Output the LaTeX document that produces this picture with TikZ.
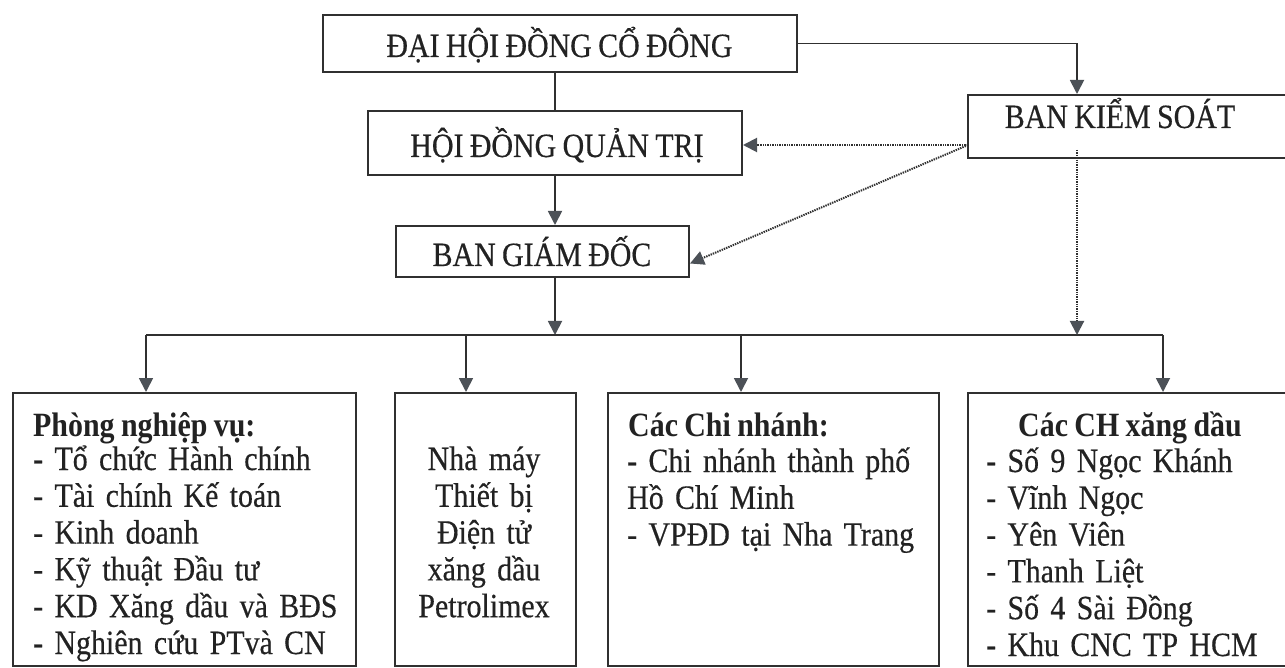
\documentclass[tikz,border=0pt]{standalone}
\usepackage{fontspec}
\setmainfont{Liberation Serif}[FakeStretch=0.88, FakeBold=0.4, WordSpace=0.85, BoldFeatures={FakeBold=0}]
\usetikzlibrary{arrows.meta,fit}
\definecolor{lc}{HTML}{303030}
\definecolor{ac}{HTML}{4C5157}
\definecolor{tc}{HTML}{222222}
\begin{document}
\begin{tikzpicture}[x=1pt,y=-1pt,
  box/.style={draw=lc, line width=2pt, inner sep=0pt, rectangle},
  txt/.style={text=tc, inner sep=0pt, font=\fontsize{34}{36.8}\selectfont},
  ttl/.style={txt, font=\fontsize{34}{36.8}\selectfont\bfseries},
  lst/.style={txt, text width=330pt, align=left, anchor=base west},
  conn/.style={draw=lc, line width=1.8pt},
  arr/.style={conn, -{Triangle[length=14pt,width=14pt,fill=ac,color=ac]}},
  dots/.style={draw=lc, line width=2pt, dash pattern=on 1.4pt off 1pt,
    -{Triangle[length=14pt,width=14pt,fill=ac,color=ac]}}]
\useasboundingbox (0,0) rectangle (1285,668);
\clip (0,0) rectangle (1285,668);
\fill[white] (0,0) rectangle (1285,668);

% boxes
\node[box, fit={(323,15) (797,72)}] (dh) {};
\node[box, fit={(368,111) (742,175)}] (hd) {};
\node[box, fit={(968,95) (1310,158)}] (bks) {};
\node[box, fit={(396,226) (689,277)}] (bgd) {};
\node[box, fit={(13,393) (356,666)}] (b1) {};
\node[box, fit={(395,393) (576,666)}] (b2) {};
\node[box, fit={(608,393) (939,666)}] (b3) {};
\node[box, fit={(968,393) (1310,666)}] (b4) {};

% texts
\node[txt, anchor=base] (dht) at (559.5,57) {ĐẠI HỘI ĐỒNG CỔ ĐÔNG};
\node[txt, anchor=base] (hdt) at (557,157) {HỘI ĐỒNG QUẢN TRỊ};
\node[txt, anchor=base] (bkst) at (1120,128) {BAN KIỂM SOÁT};
\node[txt, anchor=base] (bgdt) at (542,266) {BAN GIÁM ĐỐC};

\node[ttl, anchor=base west] (t1) at (33,436) {Phòng nghiệp vụ:};
\node[lst] (l1) at (33,470) {- Tổ chức Hành chính\\- Tài chính Kế toán\\- Kinh doanh\\- Kỹ thuật Đầu tư\\- KD Xăng dầu và BĐS\\- Nghiên cứu PTvà CN};
\node[txt, text width=175pt, align=center, anchor=base] (l2) at (484,470) {Nhà máy\\Thiết bị\\Điện tử\\xăng dầu\\Petrolimex};
\node[ttl, anchor=base west] (t3) at (628,436) {Các Chi nhánh:};
\node[lst] (l3) at (627,472) {- Chi nhánh thành phố\\Hồ Chí Minh\\- VPĐD tại Nha Trang};
\node[ttl, anchor=base] (t4) at (1130,436) {Các CH xăng dầu};
\node[lst] (l4) at (986,472) {- Số 9 Ngọc Khánh\\- Vĩnh Ngọc\\- Yên Viên\\- Thanh Liệt\\- Số 4 Sài Đồng\\- Khu CNC TP HCM};

% helper coordinates
\coordinate (kx) at (1077,0);
\coordinate (busL) at (146,335);
\coordinate (bus2) at (466,335);
\coordinate (bus3) at (741,335);
\coordinate (busR) at (1163,335);
\coordinate (bksA) at (968,145);

% solid connectors
\draw[conn] (hd.north |- dh.south) -- (hd.north);
\draw[arr] (dh.east) -| (kx |- bks.north);
\draw[arr] (hd.south) -- (hd.south |- bgd.north);
\draw[arr] (hd.south |- bgd.south) -- (hd.south |- busL);
\draw[conn] (busL) -- (busR);
\draw[arr] (busL) -- (busL |- b1.north);
\draw[arr] (bus2) -- (bus2 |- b2.north);
\draw[arr] (bus3) -- (bus3 |- b3.north);
\draw[arr] (busR) -- (busR |- b4.north);

% dotted connectors
\draw[dots] (bksA) -- (hd.east |- bksA);
\draw[dots] (bksA) -- ([yshift=-12pt]bgd.east);
\draw[dots] ([yshift=9pt]kx |- bks.south) -- (kx |- busL);
\end{tikzpicture}
\end{document}
